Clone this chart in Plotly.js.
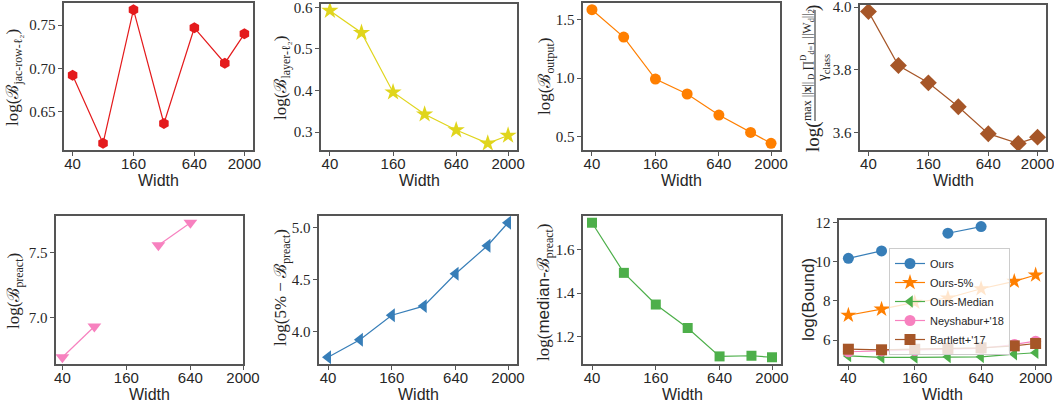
<!DOCTYPE html>
<html>
<head>
<meta charset="utf-8">
<script src="https://cdn.plot.ly/plotly-3.0.1.min.js"></script>
<style>html,body{margin:0;padding:0;background:#fff;} #chart{width:1054px;height:406px;}</style>
</head>
<body>
<div id="chart"></div>
<script>
// ---- data ----
const widths = [40, 80, 160, 320, 640, 1280, 2000];
const xTickVals = [40, 160, 640, 2000];
const xTickText = ['40', '160', '640', '2000'];

const jacRowL2 = [0.692, 0.613, 0.768, 0.636, 0.747, 0.706, 0.740];
const layerL2  = [0.592, 0.539, 0.396, 0.343, 0.305, 0.273, 0.292];
const outputB  = [1.582, 1.349, 0.991, 0.864, 0.685, 0.537, 0.444];
const marginB  = [3.986, 3.814, 3.759, 3.683, 3.597, 3.566, 3.586];
const preactB  = [6.697, 6.933, null, 7.556, 7.728, null, null];
const preact5B = [3.750, 3.919, 4.156, 4.244, 4.556, 4.827, 5.049];
const preactMedB = [1.724, 1.493, 1.347, 1.239, 1.108, 1.111, 1.104];

const boundOurs    = [10.17, 10.55, null, 11.45, 11.79, null, null];
const boundOurs5   = [7.27, 7.58, 7.93, 8.15, 8.62, 9.00, 9.32];
const boundOursMed = [5.20, 5.12, 5.12, 5.15, 5.15, 5.29, 5.36];
const boundNeysh   = [5.41, 5.45, 5.47, 5.52, 5.58, 5.78, 5.95];
const boundBartl   = [5.54, 5.51, 5.54, 5.58, 5.61, 5.71, 5.83];

const yTicks1 = [0.65, 0.70, 0.75];
const yTicks2 = [0.3, 0.4, 0.5, 0.6];
const yTicks3 = [0.5, 1.0, 1.5];
const yTicks4 = [3.6, 3.8, 4.0];
const yTicks5 = [7.0, 7.5];
const yTicks6 = [4.0, 4.5, 5.0];
const yTicks7 = [1.2, 1.4, 1.6];
const yTicks8 = [6, 8, 10, 12];

// ---- helpers ----
const W = 1054, H = 406;
function dx(l, r) { return [l / W, r / W]; }
function dy(t, b) { return [1 - b / H, 1 - t / H]; }
function yr(...arrs) {
  const v = [].concat(...arrs).filter(a => a !== null);
  const mn = Math.min(...v), mx = Math.max(...v), m = (mx - mn) * 0.05;
  return [mn - m, mx + m];
}
const serif = 'Liberation Serif';
const sans = 'Liberation Sans';
const txt = '#262626';
const frame = '#555555';

function trace(y, ax, color, symbol, size, name, show) {
  return {
    x: widths, y: y, xaxis: 'x' + ax, yaxis: 'y' + ax,
    type: 'scatter', mode: 'lines+markers', name: name || '',
    showlegend: !!show,
    line: {color: color, width: 1.2},
    marker: {color: color, symbol: symbol, size: size, line: {width: 0}}
  };
}

const cRed = '#e41a1c', cYel = '#e0d51c', cOra = '#ff7f00', cBro = '#a65628',
      cPink = '#f781bf', cBlue = '#377eb8', cGreen = '#4daf4a';

const data = [
  trace(jacRowL2, '', cRed, 'hexagon', 11),
  trace(layerL2, '2', cYel, 'star', 13),
  trace(outputB, '3', cOra, 'circle', 11),
  trace(marginB, '4', cBro, 'diamond', 13),
  trace(preactB, '5', cPink, 'triangle-down', 12),
  trace(preact5B, '6', cBlue, 'triangle-left', 12),
  trace(preactMedB, '7', cGreen, 'square', 10),
  trace(boundOurs, '8', cBlue, 'circle', 11, 'Ours', true),
  trace(boundOurs5, '8', cOra, 'star', 12, 'Ours-5%', true),
  trace(boundOursMed, '8', cGreen, 'triangle-left', 11, 'Ours-Median', true),
  trace(boundNeysh, '8', cPink, 'circle', 11, "Neyshabur+'18", true),
  trace(boundBartl, '8', cBro, 'square', 11, "Bartlett+'17", true)
];
data[0].xaxis = 'x'; data[0].yaxis = 'y';

const xrFull = [Math.log10(40) - 0.085, Math.log10(2000) + 0.085];
const xrPre = [Math.log10(40) - 0.06, Math.log10(2000)];

function xa(domain, yanchor, range) {
  return {
    domain: domain, anchor: yanchor, type: 'log', range: range,
    tickvals: xTickVals, ticktext: xTickText,
    tickfont: {family: sans, size: 15, color: txt},
    ticks: 'outside', ticklen: 4, tickcolor: frame, tickwidth: 1,
    ticklabelstandoff: -5, ticklabeloverflow: 'allow',
    showline: true, mirror: true, linecolor: frame, linewidth: 1.6,
    showgrid: false, zeroline: false
  };
}
function ya(domain, xanchor, range, ticks, fmt) {
  return {
    domain: domain, anchor: xanchor, range: range,
    tickvals: ticks, ticktext: ticks.map(v => fmt(v)),
    tickfont: {family: serif, size: 15, color: txt},
    ticks: 'outside', ticklen: 4, tickcolor: frame, tickwidth: 1,
    ticklabeloverflow: 'allow',
    showline: true, mirror: true, linecolor: frame, linewidth: 1.6,
    showgrid: false, zeroline: false
  };
}
const f1 = v => v.toFixed(1), f2 = v => v.toFixed(2), f0 = v => v.toFixed(0);

const B = 'ℬ';
function ann(text, x, y, opts) {
  return Object.assign({
    text: text, x: x / W, y: 1 - y / H, xref: 'paper', yref: 'paper',
    xanchor: 'center', yanchor: 'middle', showarrow: false,
    font: {family: serif, size: 17, color: txt}
  }, opts || {});
}
const rot = {textangle: -90};

const annotations = [
  ann('log(' + B + '<sub>jac-row-ℓ₂</sub>)', 14, 78, rot),
  ann('log(' + B + '<sub>layer-ℓ₂</sub>)', 282, 78, rot),
  ann('log(' + B + '<sub>output</sub>)', 546, 77, rot),
  // fraction label, panel 4
  ann('log(', 813, 137, Object.assign({}, rot, {font: {family: serif, size: 19, color: txt}})),
  ann('max ||<b>x</b>||<sub> D</sub> ∏<sup>D</sup><sub>d=1</sub> ||W<sub>d</sub>||<sub>2</sub>', 808, 65,
      Object.assign({}, rot, {font: {family: serif, size: 12, color: txt}})),
  ann('γ<sub>class</sub>', 823, 68, Object.assign({}, rot, {font: {family: serif, size: 15, color: txt}})),
  ann(')', 813, 8, Object.assign({}, rot, {font: {family: serif, size: 19, color: txt}})),
  ann('log(' + B + '<sub>preact</sub>)', 15, 291, rot),
  ann('log(5% − ' + B + '<sub>preact</sub>)', 282, 288, rot),
  ann('log(<span style="font-family:Liberation Sans">median</span>-' + B + '<sub>preact</sub>)', 545, 292, rot),
  ann('log(Bound)', 808, 300, Object.assign({}, rot, {font: {family: sans, size: 17, color: txt}})),
];
const xw = [[64,253],[321,517],[583,780],[860,1046],[56,243],[319,517],[583,781],[839,1045]];
xw.forEach((p, i) => {
  annotations.push(ann('Width', (p[0] + p[1]) / 2, i < 4 ? 181 : 394,
    {font: {family: sans, size: 16, color: txt}}));
});

const layout = {
  width: W, height: H, margin: {l: 0, r: 0, t: 0, b: 0},
  paper_bgcolor: '#fff', plot_bgcolor: '#fff',
  xaxis:  xa(dx(64, 253), 'y', xrFull),
  xaxis2: xa(dx(321, 517), 'y2', xrFull),
  xaxis3: xa(dx(583, 780), 'y3', xrFull),
  xaxis4: xa(dx(860, 1046), 'y4', xrFull),
  xaxis5: xa(dx(56, 243), 'y5', xrPre),
  xaxis6: xa(dx(319, 517), 'y6', xrFull),
  xaxis7: xa(dx(583, 781), 'y7', xrFull),
  xaxis8: xa(dx(839, 1045), 'y8', xrFull),
  yaxis:  ya(dy(3, 150), 'x', yr(jacRowL2), yTicks1, f2),
  yaxis2: ya(dy(4, 150), 'x2', yr(layerL2), yTicks2, f1),
  yaxis3: ya(dy(3, 150), 'x3', yr(outputB), yTicks3, f1),
  yaxis4: ya(dy(5, 150), 'x4', yr(marginB), yTicks4, f1),
  yaxis5: ya(dy(216, 364), 'x5', yr(preactB), yTicks5, f1),
  yaxis6: ya(dy(216, 364), 'x6', yr(preact5B), yTicks6, f1),
  yaxis7: ya(dy(216, 364), 'x7', yr(preactMedB), yTicks7, f1),
  yaxis8: ya(dy(220, 364), 'x8', yr(boundOurs, boundOurs5, boundOursMed, boundNeysh, boundBartl), yTicks8, f0),
  annotations: annotations,
  shapes: [{type: 'line', xref: 'paper', yref: 'paper',
            x0: 815 / W, x1: 815 / W, y0: 1 - 121 / H, y1: 1 - 10 / H,
            line: {color: txt, width: 1}}],
  legend: {
    x: 889 / W, y: 1 - 248 / H, xanchor: 'left', yanchor: 'top',
    bgcolor: 'rgba(255,255,255,0.8)', bordercolor: '#cccccc', borderwidth: 1,
    font: {family: sans, size: 11, color: txt}, tracegroupgap: 0,
    itemwidth: 30
  },
  showlegend: true
};

Plotly.newPlot('chart', data, layout, {displayModeBar: false, staticPlot: true});
</script>
</body>
</html>
